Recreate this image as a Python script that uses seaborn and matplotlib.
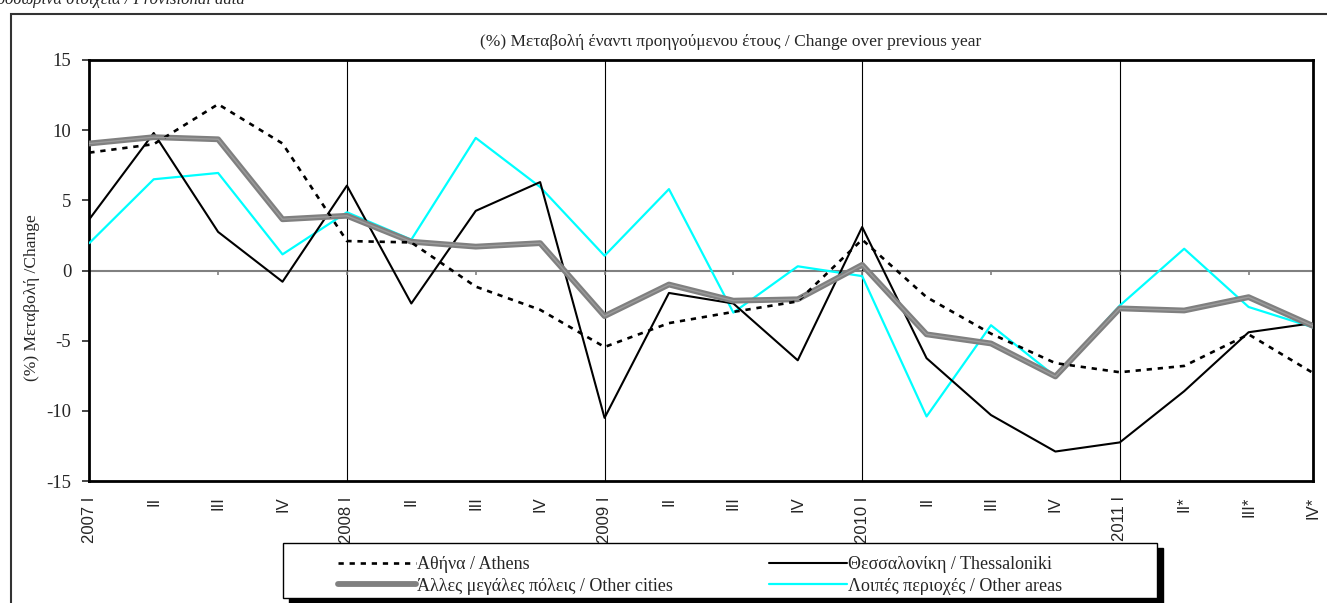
import numpy as np
import pandas as pd
import matplotlib
matplotlib.use("Agg")
import matplotlib.pyplot as plt
import seaborn as sns
from matplotlib.patches import Rectangle

# ---------- Data ----------
quarters = ["2007 I", "II", "III", "IV",
            "2008 I", "II", "III", "IV",
            "2009 I", "II", "III", "IV",
            "2010 I", "II", "III", "IV",
            "2011 I", "II*", "III*", "IV*"]

athens = [8.4, 9.0, 11.85, 9.05, 2.1, 2.0, -1.15, -2.8,
          -5.45, -3.75, -2.95, -2.2, 2.2, -1.9, -4.5, -6.6,
          -7.25, -6.8, -4.55, -7.3]
thessaloniki = [3.65, 9.8, 2.75, -0.8, 6.05, -2.35, 4.25, 6.3,
                -10.5, -1.6, -2.35, -6.4, 3.1, -6.25, -10.3, -12.9,
                -12.25, -8.6, -4.4, -3.75]
other_cities = [9.05, 9.5, 9.35, 3.65, 3.9, 2.05, 1.7, 1.95,
                -3.25, -1.0, -2.15, -2.05, 0.4, -4.55, -5.2, -7.55,
                -2.7, -2.85, -1.9, -3.95]
other_areas = [1.95, 6.5, 6.95, 1.15, 4.15, 2.2, 9.45, 5.95,
               1.05, 5.8, -3.0, 0.3, -0.4, -10.4, -3.9, -7.55,
               -2.5, 1.55, -2.6, -4.05]

series_names = ["Αθήνα / Athens",
                "Θεσσαλονίκη / Thessaloniki",
                "Άλλες μεγάλες πόλεις / Other cities",
                "Λοιπές περιοχές / Other areas"]

df = pd.DataFrame({
    "pos": np.arange(len(quarters)),
    series_names[0]: athens,
    series_names[1]: thessaloniki,
    series_names[2]: other_cities,
    series_names[3]: other_areas,
})

W, H = 1327, 603

# ---------- Style ----------
sns.set_style("white")
plt.rcParams["font.family"] = ["Liberation Serif", "DejaVu Serif"]

fig = plt.figure(figsize=(W / 100, H / 100), dpi=100)
ax = fig.add_axes([89.3 / W, 1 - 481 / H, (1313 - 89.3) / W, 421 / H])

styles = {
    series_names[0]: dict(color="black", linewidth=1.9, linestyle=(0, (2, 2.2))),
    series_names[1]: dict(color="black", linewidth=1.5, linestyle="-"),
    series_names[2]: dict(color="#808080", linewidth=4.2, linestyle="-"),
    series_names[3]: dict(color="#00FFFF", linewidth=1.6, linestyle="-"),
}

# zero line and year separators
ax.axhline(0, color="#808080", linewidth=1.5, zorder=1)
ax.vlines(np.arange(4, len(quarters), 4), -15, 15, color="black", linewidth=0.8, zorder=1)
ax.vlines(np.arange(0, len(quarters), 2), -0.35, 0, color="#808080", linewidth=1.2, zorder=1)

for name in [series_names[3], series_names[1], series_names[2], series_names[0]]:
    sns.lineplot(data=df, x="pos", y=name, ax=ax, label=name, zorder=3, **styles[name])
# light stripe inside the thick grey line
sns.lineplot(data=df, x="pos", y=series_names[2], ax=ax, color="#9c9c9c",
             linewidth=1.0, legend=False, label="_nolegend_", zorder=3.5)

ax.set_xlim(0, len(quarters) - 1)
ax.set_ylim(-15, 15)
ax.set_yticks([-15, -10, -5, 0, 5, 10, 15])
ax.set_yticklabels(["-15", "-10", "-5", "0", "5", "10", "15"], fontsize=13.5)
ax.tick_params(axis="y", direction="out", length=5, width=1.2, pad=8, left=True)

ax.set_xticks(np.arange(len(quarters)))
ax.set_xticklabels(quarters, rotation=90, fontsize=12,
                   fontfamily=["Liberation Sans", "DejaVu Sans"])
ax.tick_params(axis="x", length=0, pad=11)

for sp in ax.spines.values():
    sp.set_color("black")
    sp.set_linewidth(2.0)

ax.set_xlabel("")
ax.set_ylabel("(%) Μεταβολή /Change", fontsize=12.5)
ax.yaxis.set_label_coords((40 - 89.3) / (1313 - 89.3), (481 - 298) / 421)
ax.set_title("(%) Μεταβολή έναντι προηγούμενου έτους / Change over previous year",
             fontsize=12.5, pad=10, x=(731 - 89.3) / (1313 - 89.3))

# legend in the requested order (two columns), frame drawn separately
handles, labels = ax.get_legend_handles_labels()
if ax.legend_:
    ax.legend_.remove()
lookup = dict(zip(labels, handles))
order = [series_names[0], series_names[2], series_names[1], series_names[3]]
leg = fig.legend([lookup[k] for k in order], order, ncol=2,
                 loc="center left",
                 bbox_to_anchor=(338 / W, 1 - 603 / H, (1062 - 338) / W, 55 / H),
                 bbox_transform=fig.transFigure, mode="expand",
                 fontsize=13, handlelength=4.3, handletextpad=0.05,
                 borderpad=0.0, borderaxespad=0.0, labelspacing=0.25,
                 frameon=False)
leg.set_zorder(6)

# legend box with black shadow
fig.patches.append(Rectangle(((283 + 6) / W, 1 - (598 + 5) / H), 874 / W, 55 / H,
                             transform=fig.transFigure, facecolor="black",
                             edgecolor="black", zorder=4))
fig.patches.append(Rectangle((283 / W, 1 - 598 / H), 874 / W, 55 / H,
                             transform=fig.transFigure, facecolor="white",
                             edgecolor="black", linewidth=1.0, zorder=4.5))

# outer chart frame and clipped note at the very top
fig.patches.append(Rectangle((11 / W, -0.2), 1.2, 1.2 - 14 / H,
                             transform=fig.transFigure, fill=False,
                             edgecolor="#333333", linewidth=1.5, zorder=0))
fig.text(245 / W, 1 - 4 / H, "Προσωρινά στοιχεία / Provisional data",
         ha="right", va="baseline", fontsize=12, style="italic")

plt.savefig("out.png", dpi=100)
